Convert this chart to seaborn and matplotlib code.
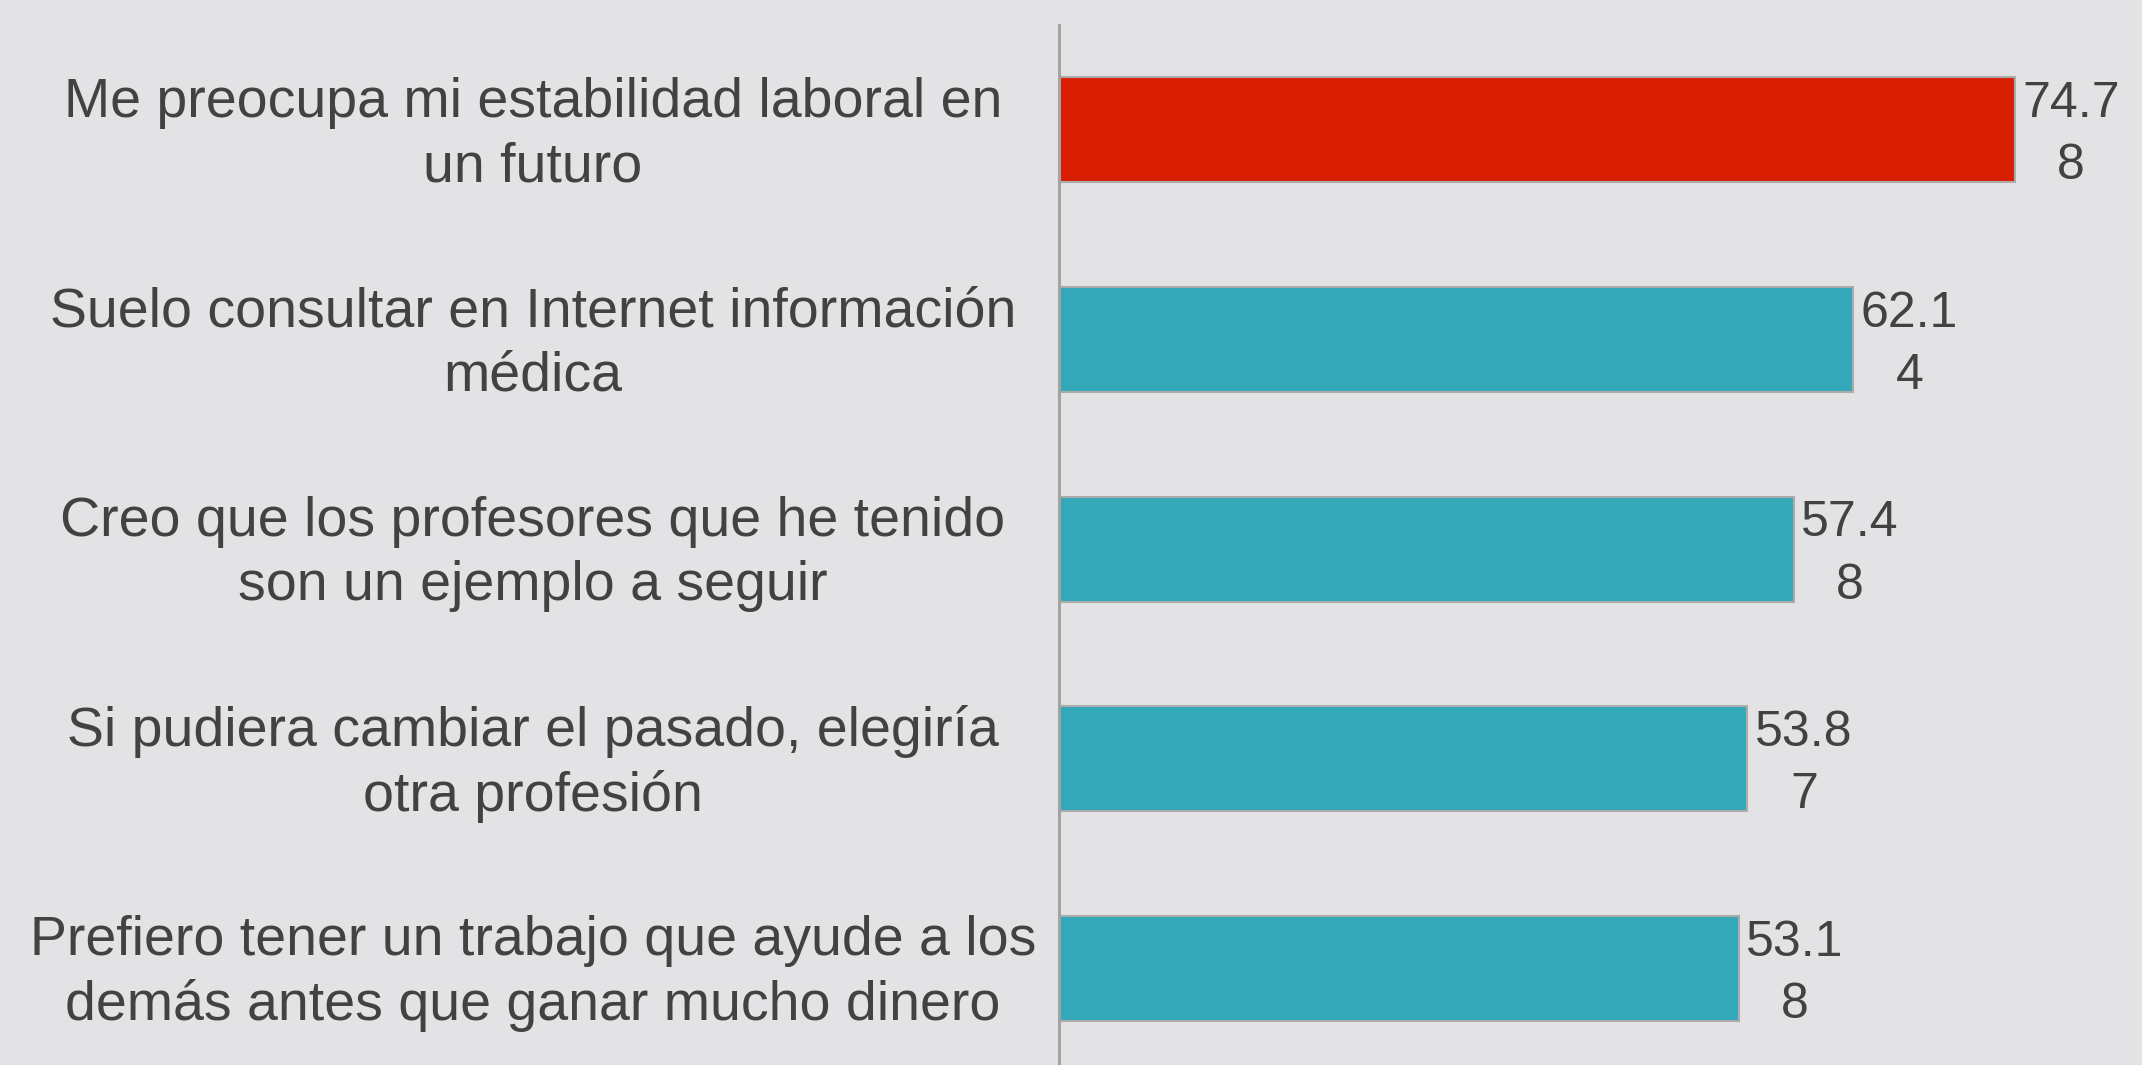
import numpy as np
import pandas as pd
import matplotlib
matplotlib.use("Agg")
import matplotlib.pyplot as plt
import matplotlib.transforms as mtransforms
import seaborn as sns

# Data
categories = [
    "Me preocupa mi estabilidad laboral en\nun futuro",
    "Suelo consultar en Internet información\nmédica",
    "Creo que los profesores que he tenido\nson un ejemplo a seguir",
    "Si pudiera cambiar el pasado, elegiría\notra profesión",
    "Prefiero tener un trabajo que ayude a los\ndemás antes que ganar mucho dinero",
]
values = [74.78, 62.14, 57.48, 53.87, 53.18]
bar_colors = ["#D81F04", "#33A8B9", "#33A8B9", "#33A8B9", "#33A8B9"]

df = pd.DataFrame({"cat": categories, "val": values})

bg = "#E3E3E5"
text_color = "#424242"

sns.set_theme(style="white")
plt.rcParams["font.family"] = ["Liberation Sans", "DejaVu Sans"]

fig = plt.figure(figsize=(21.42, 10.65), dpi=100, facecolor=bg)
ax = fig.add_axes([1059 / 2142, 0, 1 - 1059 / 2142, 1 - 25 / 1065])
ax.set_facecolor(bg)

sns.barplot(data=df, x="val", y="cat", hue="cat", palette=bar_colors,
            orient="h", width=0.5, legend=False, ax=ax,
            edgecolor="#ABABAB", linewidth=1.5, saturation=1)

ax.set_xlim(0, (2142 - 1059) / 12.78)
ax.set_ylim(4.46, -0.5)

for s in ["top", "right", "bottom"]:
    ax.spines[s].set_visible(False)
ax.spines["left"].set_color("#A3A3A3")
ax.spines["left"].set_linewidth(2.2)

ax.set_xticks([])
ax.set_yticks(range(len(categories)))
ax.set_yticklabels([])
ax.tick_params(left=False)
ax.set_xlabel("")
ax.set_ylabel("")

# category labels, centred in the left margin
trans = mtransforms.blended_transform_factory(fig.transFigure, ax.transData)
for i, c in enumerate(categories):
    ax.text(533 / 2142, i + 0.025, c, transform=trans, ha="center", va="center",
            multialignment="center", fontsize=40, color=text_color,
            linespacing=1.3)

# value labels (wrapped like in the original)
for i, v in enumerate(values):
    s = f"{v:.2f}"
    ax.text(v + 0.6, i + 0.025, s[:-1] + "\n" + s[-1], ha="left", va="center",
            multialignment="center", fontsize=36, color=text_color,
            linespacing=1.45)

fig.savefig("out.png", dpi=100, facecolor=bg)
